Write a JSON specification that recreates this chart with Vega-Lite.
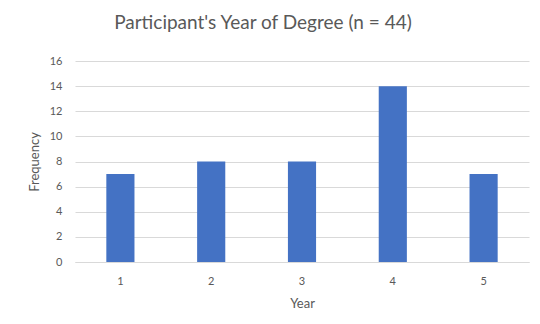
{
  "$schema": "https://vega.github.io/schema/vega-lite/v6.json",
  "autosize": {"type": "none"},
  "width": 454,
  "height": 201,
  "padding": {"left": 75, "top": 61, "right": 11, "bottom": 62},
  "background": "white",
  "title": {
    "text": "Participant's Year of Degree (n = 44)",
    "anchor": "middle",
    "frame": "group",
    "dx": -39,
    "offset": 22,
    "font": "Lato",
    "fontSize": 19,
    "fontWeight": "normal",
    "color": "#595959"
  },
  "data": {
    "values": [
      {"year": "1", "count": 7},
      {"year": "2", "count": 8},
      {"year": "3", "count": 8},
      {"year": "4", "count": 14},
      {"year": "5", "count": 7}
    ]
  },
  "mark": {"type": "bar", "color": "#4472C4"},
  "encoding": {
    "x": {
      "field": "year",
      "type": "ordinal",
      "title": "Year",
      "scale": {"paddingInner": 0.69, "paddingOuter": 0.345},
      "axis": {
        "labelAngle": 0,
        "ticks": false,
        "domainColor": "#d9d9d9",
        "labelPadding": 13,
        "titlePadding": 11
      }
    },
    "y": {
      "field": "count",
      "type": "quantitative",
      "title": "Frequency",
      "scale": {"domain": [0, 16]},
      "axis": {
        "values": [0, 2, 4, 6, 8, 10, 12, 14, 16],
        "ticks": false,
        "domain": false,
        "gridColor": "#d9d9d9",
        "labelPadding": 13,
        "titlePadding": 8
      }
    }
  },
  "config": {
    "view": {"stroke": null},
    "axis": {
      "labelFont": "Lato",
      "labelFontSize": 11,
      "labelColor": "#595959",
      "titleFont": "Lato",
      "titleFontSize": 13,
      "titleFontWeight": "normal",
      "titleColor": "#595959"
    }
  }
}
